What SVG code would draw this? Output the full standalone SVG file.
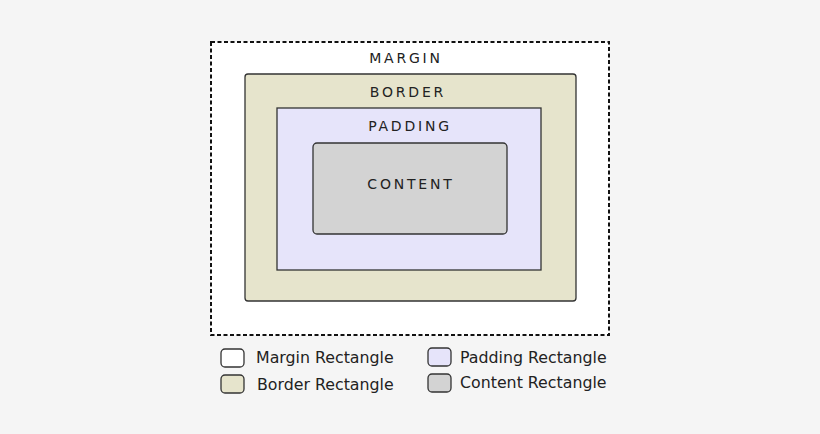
<svg xmlns="http://www.w3.org/2000/svg" width="820" height="434" viewBox="0 0 820 434">
<style>
.lbl{font-family:"DejaVu Sans",sans-serif;font-size:14px;letter-spacing:2.8px;fill:#222;text-anchor:middle}
.leg{font-family:"DejaVu Sans",sans-serif;font-size:15.8px;fill:#222}
.box{stroke:#333;stroke-width:1.3}
</style>
<rect width="820" height="434" fill="#f5f5f5"/>
<g id="margin"><rect x="211" y="42" width="398" height="293" fill="#fff" stroke="#111" stroke-width="2" stroke-dasharray="4,2.5"/><text class="lbl" x="406" y="63">MARGIN</text></g>
<g id="border"><rect class="box" x="245" y="74" width="331" height="227" rx="3" fill="#e6e4cc"/><text class="lbl" x="408" y="97">BORDER</text></g>
<g id="padding"><rect class="box" x="277" y="108" width="264" height="162" fill="#e6e4fa"/><text class="lbl" x="410" y="131">PADDING</text></g>
<g id="content"><rect class="box" x="313" y="143" width="194" height="91" rx="4" fill="#d3d3d3"/><text class="lbl" x="411" y="189">CONTENT</text></g>
<g id="legend">
<rect class="box" x="221" y="349" width="23" height="18" rx="4" fill="#fff"/><text class="leg" x="256" y="363">Margin Rectangle</text>
<rect class="box" x="221" y="375" width="23" height="18" rx="4" fill="#e6e4cc"/><text class="leg" x="257" y="390">Border Rectangle</text>
<rect class="box" x="428" y="348" width="23" height="18" rx="4" fill="#e6e4fa"/><text class="leg" x="460" y="363">Padding Rectangle</text>
<rect class="box" x="428" y="374" width="23" height="18" rx="4" fill="#d3d3d3"/><text class="leg" x="460" y="388">Content Rectangle</text>
</g>
<g id="connectors"/>
</svg>
